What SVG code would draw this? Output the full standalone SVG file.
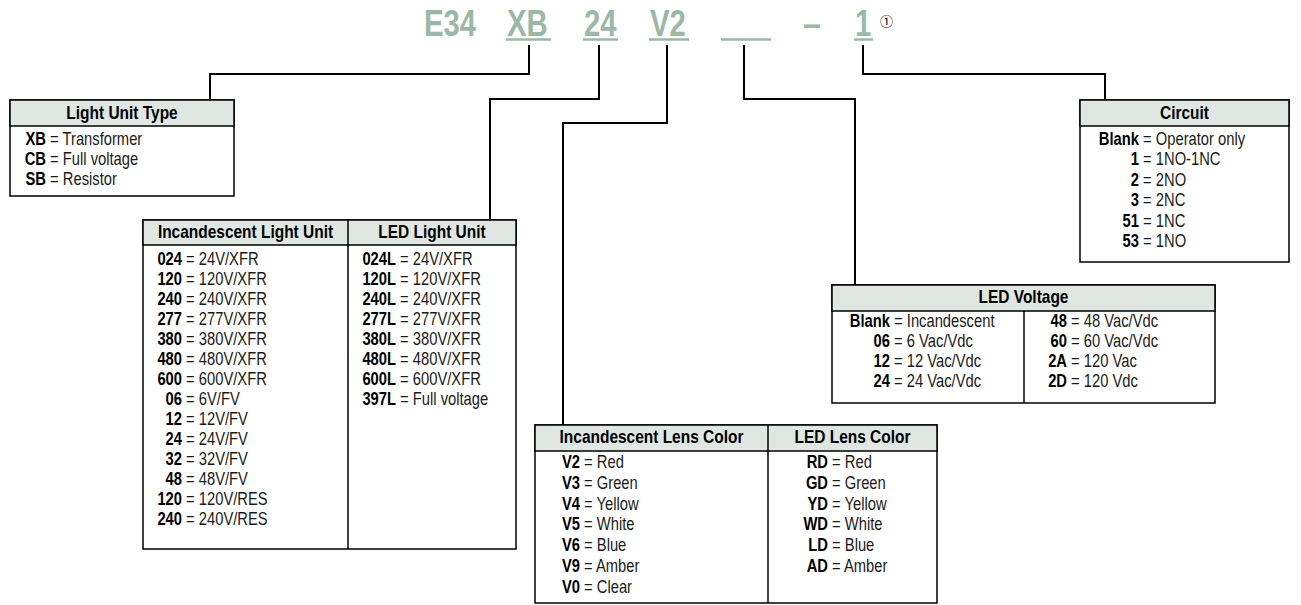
<svg xmlns="http://www.w3.org/2000/svg" width="1301" height="605" viewBox="0 0 1301 605">
<style>
text{font-family:"Liberation Sans",Arial,sans-serif;font-size:18px}
.h{font-weight:bold;text-anchor:middle;fill:#000}
.c{font-weight:bold;text-anchor:end;fill:#000}
.d{fill:#1a1a1a}
.tt{font-weight:bold;font-size:36px;fill:#9bb8a6}
.box{fill:#fff;stroke:#000;stroke-width:1.5}
.hd{fill:#e0e7e2;stroke:#000;stroke-width:1.5}
.ln{stroke:#000;stroke-width:1.5}
.ul{stroke:#9bb8a6;stroke-width:2.5}
.con{fill:none;stroke:#000;stroke-width:2}
</style>
<rect width="1301" height="605" fill="#fff"/>
<g id="title">
<text class="tt" transform="translate(424,36) scale(.815,1)">E34</text>
<text class="tt" transform="translate(507,36) scale(.815,1)">XB</text>
<text class="tt" transform="translate(584,36) scale(.815,1)">24</text>
<text class="tt" transform="translate(650,36) scale(.815,1)">V2</text>
<text class="tt" transform="translate(803,36) scale(.9,1)">–</text>
<text class="tt" transform="translate(855,36) scale(.815,1)">1</text>
<line class="ul" x1="506" y1="39.5" x2="551" y2="39.5"/>
<line class="ul" x1="583" y1="39.5" x2="618" y2="39.5"/>
<line class="ul" x1="649" y1="39.5" x2="689" y2="39.5"/>
<line class="ul" x1="721" y1="39.5" x2="771" y2="39.5"/>
<line class="ul" x1="854" y1="39.5" x2="873" y2="39.5"/>
<text x="886.5" y="26" text-anchor="middle" style="font-family:'Noto Sans CJK JP','DejaVu Sans',sans-serif;font-size:13px">①</text>
</g>
<g id="connectors">
<path class="con" d="M529,45 V74 H210 V100"/>
<path class="con" d="M599,45 V99 H490 V220"/>
<path class="con" d="M667,45 V123 H563 V425"/>
<path class="con" d="M744,45 V99 H855 V285"/>
<path class="con" d="M863,45 V74 H1105 V100"/>
</g>
<g id="light-unit-type">
<rect class="box" x="10" y="100" width="224" height="96"/>
<rect class="hd" x="10" y="100" width="224" height="26"/>
<text class="h" transform="translate(122,119) scale(.86,1)">Light Unit Type</text>
<g transform="translate(46,0) scale(.82,1)">
<text class="c" y="145">XB</text><text class="d" x="5" y="145">= Transformer</text>
<text class="c" y="165">CB</text><text class="d" x="5" y="165">= Full voltage</text>
<text class="c" y="185">SB</text><text class="d" x="5" y="185">= Resistor</text>
</g>
</g>
<g id="light-unit">
<rect class="box" x="143" y="220" width="373" height="329"/>
<rect class="hd" x="143" y="220" width="373" height="25"/>
<line class="ln" x1="348" y1="220" x2="348" y2="549"/>
<text class="h" transform="translate(245.5,238) scale(.86,1)">Incandescent Light Unit</text>
<text class="h" transform="translate(432,238) scale(.86,1)">LED Light Unit</text>
<g transform="translate(182,0) scale(.82,1)">
<text class="c" y="265">024</text><text class="d" x="5" y="265">= 24V/XFR</text>
<text class="c" y="285">120</text><text class="d" x="5" y="285">= 120V/XFR</text>
<text class="c" y="305">240</text><text class="d" x="5" y="305">= 240V/XFR</text>
<text class="c" y="325">277</text><text class="d" x="5" y="325">= 277V/XFR</text>
<text class="c" y="345">380</text><text class="d" x="5" y="345">= 380V/XFR</text>
<text class="c" y="365">480</text><text class="d" x="5" y="365">= 480V/XFR</text>
<text class="c" y="385">600</text><text class="d" x="5" y="385">= 600V/XFR</text>
<text class="c" y="405">06</text><text class="d" x="5" y="405">= 6V/FV</text>
<text class="c" y="425">12</text><text class="d" x="5" y="425">= 12V/FV</text>
<text class="c" y="445">24</text><text class="d" x="5" y="445">= 24V/FV</text>
<text class="c" y="465">32</text><text class="d" x="5" y="465">= 32V/FV</text>
<text class="c" y="485">48</text><text class="d" x="5" y="485">= 48V/FV</text>
<text class="c" y="505">120</text><text class="d" x="5" y="505">= 120V/RES</text>
<text class="c" y="525">240</text><text class="d" x="5" y="525">= 240V/RES</text>
</g>
<g transform="translate(396,0) scale(.82,1)">
<text class="c" y="265">024L</text><text class="d" x="5" y="265">= 24V/XFR</text>
<text class="c" y="285">120L</text><text class="d" x="5" y="285">= 120V/XFR</text>
<text class="c" y="305">240L</text><text class="d" x="5" y="305">= 240V/XFR</text>
<text class="c" y="325">277L</text><text class="d" x="5" y="325">= 277V/XFR</text>
<text class="c" y="345">380L</text><text class="d" x="5" y="345">= 380V/XFR</text>
<text class="c" y="365">480L</text><text class="d" x="5" y="365">= 480V/XFR</text>
<text class="c" y="385">600L</text><text class="d" x="5" y="385">= 600V/XFR</text>
<text class="c" y="405">397L</text><text class="d" x="5" y="405">= Full voltage</text>
</g>
</g>
<g id="lens-color">
<rect class="box" x="535" y="425" width="402" height="178"/>
<rect class="hd" x="535" y="425" width="402" height="26"/>
<line class="ln" x1="768" y1="425" x2="768" y2="603"/>
<text class="h" transform="translate(651.5,443) scale(.86,1)">Incandescent Lens Color</text>
<text class="h" transform="translate(852.5,443) scale(.86,1)">LED Lens Color</text>
<g transform="translate(580,0) scale(.82,1)">
<text class="c" y="468">V2</text><text class="d" x="5" y="468">= Red</text>
<text class="c" y="488.8">V3</text><text class="d" x="5" y="488.8">= Green</text>
<text class="c" y="509.6">V4</text><text class="d" x="5" y="509.6">= Yellow</text>
<text class="c" y="530.4">V5</text><text class="d" x="5" y="530.4">= White</text>
<text class="c" y="551.2">V6</text><text class="d" x="5" y="551.2">= Blue</text>
<text class="c" y="572">V9</text><text class="d" x="5" y="572">= Amber</text>
<text class="c" y="592.8">V0</text><text class="d" x="5" y="592.8">= Clear</text>
</g>
<g transform="translate(828,0) scale(.82,1)">
<text class="c" y="468">RD</text><text class="d" x="5" y="468">= Red</text>
<text class="c" y="488.8">GD</text><text class="d" x="5" y="488.8">= Green</text>
<text class="c" y="509.6">YD</text><text class="d" x="5" y="509.6">= Yellow</text>
<text class="c" y="530.4">WD</text><text class="d" x="5" y="530.4">= White</text>
<text class="c" y="551.2">LD</text><text class="d" x="5" y="551.2">= Blue</text>
<text class="c" y="572">AD</text><text class="d" x="5" y="572">= Amber</text>
</g>
</g>
<g id="led-voltage">
<rect class="box" x="832" y="285" width="383" height="118"/>
<rect class="hd" x="832" y="285" width="383" height="26"/>
<line class="ln" x1="1024" y1="311" x2="1024" y2="403"/>
<text class="h" transform="translate(1023.5,303) scale(.86,1)">LED Voltage</text>
<g transform="translate(890,0) scale(.82,1)">
<text class="c" y="327">Blank</text><text class="d" x="5" y="327">= Incandescent</text>
<text class="c" y="347">06</text><text class="d" x="5" y="347">= 6 Vac/Vdc</text>
<text class="c" y="367">12</text><text class="d" x="5" y="367">= 12 Vac/Vdc</text>
<text class="c" y="387">24</text><text class="d" x="5" y="387">= 24 Vac/Vdc</text>
</g>
<g transform="translate(1067,0) scale(.82,1)">
<text class="c" y="327">48</text><text class="d" x="5" y="327">= 48 Vac/Vdc</text>
<text class="c" y="347">60</text><text class="d" x="5" y="347">= 60 Vac/Vdc</text>
<text class="c" y="367">2A</text><text class="d" x="5" y="367">= 120 Vac</text>
<text class="c" y="387">2D</text><text class="d" x="5" y="387">= 120 Vdc</text>
</g>
</g>
<g id="circuit">
<rect class="box" x="1080" y="100" width="209" height="162"/>
<rect class="hd" x="1080" y="100" width="209" height="26"/>
<text class="h" transform="translate(1184.5,119) scale(.86,1)">Circuit</text>
<g transform="translate(1139,0) scale(.82,1)">
<text class="c" y="145">Blank</text><text class="d" x="5" y="145">= Operator only</text>
<text class="c" y="165.5">1</text><text class="d" x="5" y="165.5">= 1NO-1NC</text>
<text class="c" y="186">2</text><text class="d" x="5" y="186">= 2NO</text>
<text class="c" y="206.5">3</text><text class="d" x="5" y="206.5">= 2NC</text>
<text class="c" y="227">51</text><text class="d" x="5" y="227">= 1NC</text>
<text class="c" y="247.5">53</text><text class="d" x="5" y="247.5">= 1NO</text>
</g>
</g>
</svg>
